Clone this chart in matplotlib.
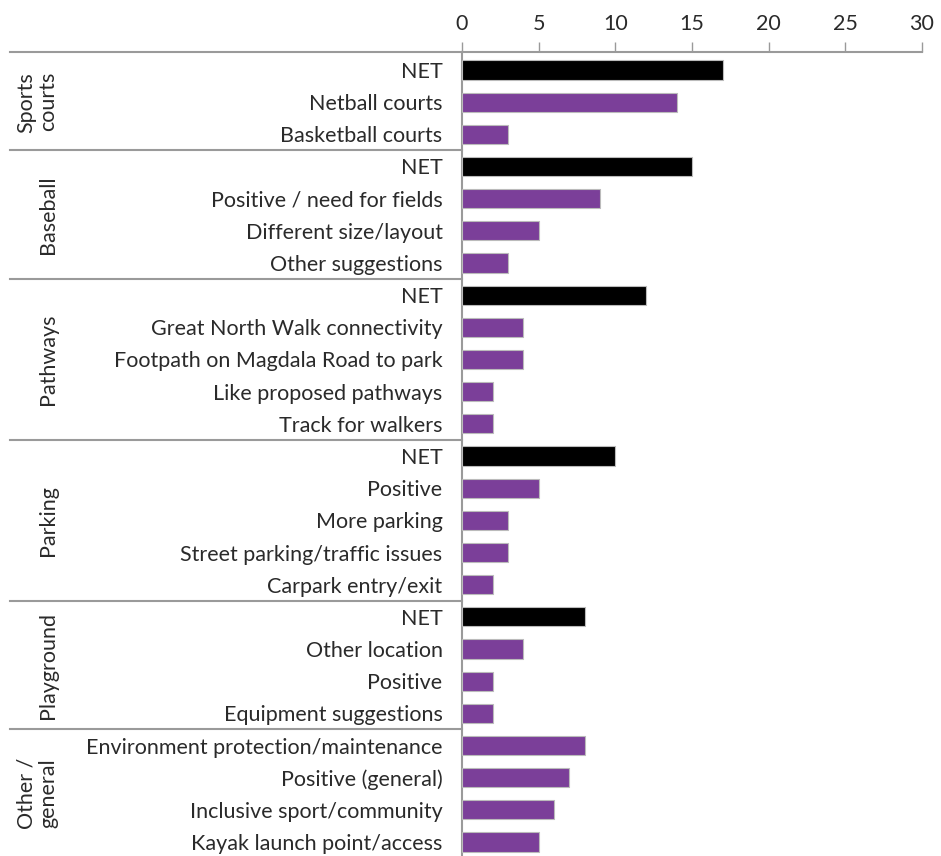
import numpy as np
import matplotlib
matplotlib.use('Agg')
import matplotlib.pyplot as plt

plt.rcParams['font.family'] = ['Lato', 'DejaVu Sans']

# groups and their rows (top to bottom)
groups = ['Sports\ncourts', 'Baseball', 'Pathways', 'Parking', 'Playground', 'Other /\ngeneral']
group_sizes = [3, 4, 5, 5, 4, 4]

labels = ['NET', 'Netball courts', 'Basketball courts',
          'NET', 'Positive / need for fields', 'Different size/layout', 'Other suggestions',
          'NET', 'Great North Walk connectivity', 'Footpath on Magdala Road to park',
          'Like proposed pathways', 'Track for walkers',
          'NET', 'Positive', 'More parking', 'Street parking/traffic issues', 'Carpark entry/exit',
          'NET', 'Other location', 'Positive', 'Equipment suggestions',
          'Environment protection/maintenance', 'Positive (general)',
          'Inclusive sport/community', 'Kayak launch point/access']
values = [17, 14, 3,
          15, 9, 5, 3,
          12, 4, 4, 2, 2,
          10, 5, 3, 3, 2,
          8, 4, 2, 2,
          8, 7, 6, 5]
xticks = [0, 5, 10, 15, 20, 25, 30]

purple = '#7b3f99'
text_col = '#2a2a2a'
line_col = '#9a9a9a'

fig = plt.figure(figsize=(9.41, 8.56), dpi=100)
ax = fig.add_axes([462/941, 0, 460/941, 1 - 52/856])

y = np.arange(len(labels))
colors = ['black' if l == 'NET' else purple for l in labels]
ax.barh(y, values, height=0.6, color=colors, edgecolor='#bbbbbb', linewidth=0.8, zorder=3)

ax.set_xlim(0, 30)
ax.set_ylim(24 + 14/32.17, -18/32.17)
ax.xaxis.tick_top()
ax.set_xticks(xticks)
ax.set_xticklabels([str(t) for t in xticks], fontsize=15.5, color=text_col)
ax.tick_params(axis='x', length=7, width=1, color=line_col, pad=6)
ax.set_yticks(y)
ax.set_yticklabels(labels, fontsize=15.5, color=text_col)
ax.tick_params(axis='y', length=0, pad=14)

for s in ['right', 'bottom']:
    ax.spines[s].set_visible(False)
for s in ['top', 'left']:
    ax.spines[s].set_color(line_col)
    ax.spines[s].set_linewidth(1.5)

# top rule extending over the label area, and group separators
x_left = (10 - 462) / 460
trans = ax.get_yaxis_transform()
ax.plot([x_left, 0], [-18/32.17, -18/32.17], color=line_col, lw=1.5, transform=trans, clip_on=False)

start = 0
for g, n in zip(groups, group_sizes):
    end = start + n
    if end < len(labels):
        ax.plot([x_left, 0], [end - 0.5, end - 0.5], color=line_col, lw=1.5,
                transform=trans, clip_on=False)
    mid = (start + end - 1) / 2
    ax.text((58 - 462) / 460, mid, g, transform=trans, rotation=90, ha='right', va='center',
            fontsize=15.5, color=text_col, linespacing=1.1)
    start = end

fig.savefig('out.png', dpi=100)
